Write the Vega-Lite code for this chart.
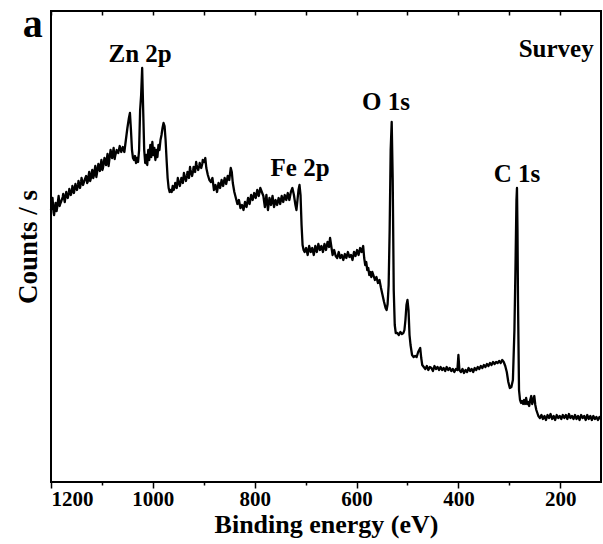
{
"$schema": "https://vega.github.io/schema/vega-lite/v6.json",
"width": 550, "height": 471,
"autosize": {"type": "none"},
"padding": {"left": 51, "top": 11, "right": 2, "bottom": 62},
"background": "white",
"config": {"view": {"stroke": "black", "strokeWidth": 2}, "font": "Liberation Serif"},
"datasets": {
"spectrum": [
{"e":1200,"c":272},{"e":1198,"c":281},{"e":1197,"c":284},{"e":1195,"c":270},{"e":1194,"c":267},{"e":1191,"c":279},{"e":1189,"c":271},{"e":1188,"c":274},{"e":1185,"c":286},{"e":1183,"c":276},{"e":1182,"c":278},{"e":1179,"c":282},{"e":1177,"c":285},{"e":1176,"c":288},{"e":1173,"c":280},{"e":1171,"c":287},{"e":1170,"c":290},{"e":1167,"c":284},{"e":1165,"c":289},{"e":1164,"c":293},{"e":1161,"c":287},{"e":1159,"c":291},{"e":1158,"c":296},{"e":1155,"c":289},{"e":1153,"c":295},{"e":1152,"c":298},{"e":1149,"c":292},{"e":1147,"c":297},{"e":1146,"c":301},{"e":1143,"c":294},{"e":1141,"c":300},{"e":1140,"c":304},{"e":1137,"c":297},{"e":1134,"c":302},{"e":1131,"c":306},{"e":1129,"c":299},{"e":1128,"c":300},{"e":1125,"c":310},{"e":1123,"c":301},{"e":1122,"c":303},{"e":1119,"c":312},{"e":1117,"c":304},{"e":1116,"c":306},{"e":1113,"c":316},{"e":1111,"c":305},{"e":1110,"c":308},{"e":1107,"c":318},{"e":1105,"c":313},{"e":1104,"c":311},{"e":1101,"c":322},{"e":1099,"c":312},{"e":1098,"c":314},{"e":1095,"c":324},{"e":1093,"c":320},{"e":1092,"c":317},{"e":1089,"c":328},{"e":1087,"c":316},{"e":1086,"c":320},{"e":1083,"c":332},{"e":1081,"c":327},{"e":1080,"c":324},{"e":1077,"c":334},{"e":1075,"c":323},{"e":1074,"c":326},{"e":1071,"c":332},{"e":1068,"c":329},{"e":1065,"c":336},{"e":1062,"c":330},{"e":1059,"c":335},{"e":1056,"c":330},{"e":1053,"c":342},{"e":1050,"c":354},{"e":1047,"c":364},{"e":1045,"c":369},{"e":1043,"c":352},{"e":1041,"c":332},{"e":1039,"c":324},{"e":1037,"c":322},{"e":1035,"c":326},{"e":1033,"c":319},{"e":1031,"c":324},{"e":1029,"c":320},{"e":1027,"c":332},{"e":1025,"c":372},{"e":1023,"c":387},{"e":1021,"c":414},{"e":1019,"c":372},{"e":1017,"c":332},{"e":1015,"c":319},{"e":1013,"c":327},{"e":1011,"c":317},{"e":1009,"c":332},{"e":1007,"c":322},{"e":1005,"c":337},{"e":1003,"c":325},{"e":1001,"c":340},{"e":999,"c":327},{"e":997,"c":334},{"e":995,"c":322},{"e":993,"c":332},{"e":991,"c":325},{"e":989,"c":337},{"e":987,"c":332},{"e":985,"c":342},{"e":983,"c":347},{"e":981,"c":354},{"e":979,"c":359},{"e":977,"c":356},{"e":975,"c":342},{"e":973,"c":322},{"e":971,"c":304},{"e":969,"c":294},{"e":967,"c":290},{"e":965,"c":292},{"e":963,"c":290},{"e":961,"c":296},{"e":959,"c":292},{"e":957,"c":295},{"e":956,"c":299},{"e":953,"c":294},{"e":951,"c":304},{"e":950,"c":302},{"e":947,"c":296},{"e":945,"c":301},{"e":944,"c":304},{"e":941,"c":299},{"e":939,"c":309},{"e":938,"c":307},{"e":935,"c":301},{"e":933,"c":306},{"e":932,"c":310},{"e":929,"c":304},{"e":927,"c":315},{"e":926,"c":312},{"e":923,"c":306},{"e":921,"c":311},{"e":920,"c":315},{"e":917,"c":310},{"e":915,"c":320},{"e":914,"c":317},{"e":911,"c":312},{"e":909,"c":316},{"e":908,"c":319},{"e":905,"c":314},{"e":903,"c":318},{"e":902,"c":322},{"e":899,"c":320},{"e":897,"c":324},{"e":895,"c":314},{"e":892,"c":307},{"e":889,"c":302},{"e":886,"c":300},{"e":883,"c":304},{"e":880,"c":292},{"e":877,"c":297},{"e":874,"c":290},{"e":871,"c":299},{"e":868,"c":294},{"e":865,"c":302},{"e":862,"c":296},{"e":859,"c":304},{"e":856,"c":298},{"e":853,"c":306},{"e":850,"c":302},{"e":847,"c":314},{"e":845,"c":310},{"e":843,"c":299},{"e":840,"c":290},{"e":837,"c":284},{"e":834,"c":278},{"e":831,"c":282},{"e":828,"c":274},{"e":825,"c":277},{"e":822,"c":272},{"e":819,"c":280},{"e":816,"c":275},{"e":813,"c":284},{"e":810,"c":278},{"e":807,"c":287},{"e":804,"c":282},{"e":801,"c":289},{"e":798,"c":284},{"e":795,"c":292},{"e":792,"c":286},{"e":789,"c":294},{"e":786,"c":290},{"e":783,"c":286},{"e":780,"c":275},{"e":777,"c":287},{"e":774,"c":272},{"e":771,"c":284},{"e":768,"c":277},{"e":765,"c":286},{"e":762,"c":275},{"e":759,"c":282},{"e":756,"c":277},{"e":753,"c":284},{"e":750,"c":278},{"e":747,"c":286},{"e":744,"c":280},{"e":741,"c":287},{"e":738,"c":282},{"e":735,"c":289},{"e":732,"c":282},{"e":729,"c":290},{"e":726,"c":294},{"e":723,"c":287},{"e":720,"c":277},{"e":718,"c":272},{"e":716,"c":282},{"e":714,"c":292},{"e":712,"c":297},{"e":710,"c":287},{"e":708,"c":257},{"e":706,"c":237},{"e":704,"c":232},{"e":702,"c":230},{"e":699,"c":234},{"e":696,"c":227},{"e":693,"c":236},{"e":690,"c":230},{"e":687,"c":234},{"e":684,"c":227},{"e":681,"c":236},{"e":678,"c":230},{"e":675,"c":238},{"e":672,"c":232},{"e":669,"c":236},{"e":666,"c":230},{"e":663,"c":238},{"e":660,"c":232},{"e":657,"c":240},{"e":654,"c":235},{"e":652,"c":244},{"e":650,"c":237},{"e":647,"c":227},{"e":644,"c":232},{"e":641,"c":226},{"e":638,"c":224},{"e":635,"c":230},{"e":632,"c":224},{"e":629,"c":227},{"e":626,"c":222},{"e":623,"c":228},{"e":620,"c":224},{"e":617,"c":230},{"e":614,"c":225},{"e":611,"c":227},{"e":608,"c":222},{"e":605,"c":230},{"e":602,"c":226},{"e":599,"c":232},{"e":596,"c":227},{"e":593,"c":234},{"e":590,"c":230},{"e":587,"c":236},{"e":585,"c":224},{"e":583,"c":217},{"e":581,"c":220},{"e":579,"c":212},{"e":577,"c":214},{"e":575,"c":207},{"e":573,"c":210},{"e":571,"c":205},{"e":569,"c":210},{"e":567,"c":207},{"e":564,"c":202},{"e":561,"c":205},{"e":558,"c":199},{"e":555,"c":202},{"e":552,"c":194},{"e":549,"c":187},{"e":546,"c":180},{"e":543,"c":174},{"e":541,"c":172},{"e":539,"c":178},{"e":537,"c":197},{"e":535,"c":252},{"e":533,"c":332},{"e":531,"c":360},{"e":529,"c":302},{"e":527,"c":192},{"e":525,"c":157},{"e":523,"c":149},{"e":520,"c":149},{"e":517,"c":147},{"e":514,"c":150},{"e":511,"c":148},{"e":508,"c":149},{"e":506,"c":152},{"e":504,"c":162},{"e":502,"c":177},{"e":500,"c":182},{"e":498,"c":172},{"e":496,"c":147},{"e":494,"c":137},{"e":491,"c":127},{"e":488,"c":125},{"e":485,"c":126},{"e":482,"c":125},{"e":479,"c":130},{"e":477,"c":132},{"e":475,"c":134},{"e":473,"c":124},{"e":471,"c":117},{"e":468,"c":115},{"e":465,"c":113},{"e":462,"c":116},{"e":459,"c":112},{"e":456,"c":115},{"e":453,"c":114},{"e":450,"c":111},{"e":447,"c":116},{"e":444,"c":113},{"e":441,"c":115},{"e":438,"c":112},{"e":435,"c":115},{"e":432,"c":112},{"e":429,"c":114},{"e":426,"c":111},{"e":423,"c":115},{"e":420,"c":112},{"e":417,"c":114},{"e":414,"c":111},{"e":411,"c":113},{"e":408,"c":110},{"e":405,"c":113},{"e":402,"c":112},{"e":400,"c":127},{"e":398,"c":112},{"e":395,"c":110},{"e":392,"c":113},{"e":389,"c":109},{"e":386,"c":112},{"e":383,"c":110},{"e":380,"c":114},{"e":377,"c":111},{"e":374,"c":113},{"e":371,"c":110},{"e":368,"c":114},{"e":365,"c":112},{"e":362,"c":115},{"e":359,"c":113},{"e":356,"c":116},{"e":353,"c":114},{"e":350,"c":117},{"e":347,"c":115},{"e":344,"c":118},{"e":341,"c":116},{"e":338,"c":119},{"e":335,"c":117},{"e":332,"c":120},{"e":329,"c":118},{"e":326,"c":120},{"e":323,"c":119},{"e":320,"c":121},{"e":317,"c":119},{"e":314,"c":122},{"e":311,"c":120},{"e":308,"c":116},{"e":305,"c":110},{"e":302,"c":100},{"e":299,"c":94},{"e":296,"c":95},{"e":293,"c":102},{"e":290,"c":152},{"e":288,"c":212},{"e":286,"c":282},{"e":285,"c":294},{"e":284,"c":252},{"e":283,"c":182},{"e":281,"c":92},{"e":279,"c":82},{"e":277,"c":79},{"e":275,"c":81},{"e":273,"c":78},{"e":271,"c":82},{"e":269,"c":78},{"e":267,"c":84},{"e":265,"c":78},{"e":263,"c":80},{"e":261,"c":76},{"e":259,"c":82},{"e":257,"c":86},{"e":255,"c":78},{"e":253,"c":82},{"e":251,"c":86},{"e":249,"c":77},{"e":247,"c":72},{"e":245,"c":69},{"e":243,"c":66},{"e":240,"c":64},{"e":237,"c":67},{"e":234,"c":63},{"e":231,"c":66},{"e":228,"c":62},{"e":225,"c":67},{"e":222,"c":64},{"e":219,"c":68},{"e":216,"c":63},{"e":213,"c":66},{"e":210,"c":62},{"e":207,"c":67},{"e":204,"c":64},{"e":201,"c":66},{"e":198,"c":63},{"e":195,"c":67},{"e":192,"c":64},{"e":189,"c":67},{"e":186,"c":63},{"e":183,"c":68},{"e":180,"c":64},{"e":177,"c":66},{"e":174,"c":63},{"e":171,"c":67},{"e":168,"c":63},{"e":165,"c":66},{"e":162,"c":62},{"e":159,"c":67},{"e":156,"c":64},{"e":153,"c":66},{"e":150,"c":62},{"e":147,"c":67},{"e":144,"c":63},{"e":141,"c":66},{"e":138,"c":62},{"e":135,"c":66},{"e":132,"c":63},{"e":129,"c":65},{"e":126,"c":62},{"e":123,"c":65},{"e":120,"c":63}
],
"labels": [
{"e":1025,"c":420,"t":"Zn 2p"},
{"e":542,"c":372,"t":"O 1s"},
{"e":711,"c":306,"t":"Fe 2p"},
{"e":285,"c":300,"t":"C 1s"},
{"e":208,"c":425,"t":"Survey"}
],
"panel": [
{"e":1236,"c":445,"t":"a"}
]
},
"resolve": {"axis": {"x": "independent", "y": "independent"}},
"layer": [
{
"data": {"name": "spectrum"},
"mark": {"type": "line", "color": "black", "strokeWidth": 2.3, "strokeJoin": "round"},
"encoding": {
"x": {"field": "e", "type": "quantitative",
"scale": {"domain": [120, 1200], "reverse": true, "nice": false, "zero": false},
"axis": {"orient": "bottom", "values": [1200,1100,1000,900,800,700,600,500,400,300,200],
"labelExpr": "datum.value % 200 == 0 ? datum.label : ''", "format": "d",
"title": "Binding energy (eV)", "grid": false, "domain": false,
"tickColor": "black", "tickWidth": 1.5,
"tickSize": {"condition": {"test": "datum.value % 200 == 0", "value": 6}, "value": 3},
"labelFont": "Liberation Serif", "labelFontWeight": "bold", "labelFontSize": 21, "labelColor": "black", "labelPadding": 0,
"titleFont": "Liberation Serif", "titleFontWeight": "bold", "titleFontSize": 26, "titleColor": "black", "titlePadding": 2}},
"y": {"field": "c", "type": "quantitative",
"scale": {"domain": [0, 471], "nice": false, "zero": false},
"axis": {"orient": "left", "title": "Counts / s", "labels": false, "ticks": false, "domain": false, "grid": false,
"titleFont": "Liberation Serif", "titleFontWeight": "bold", "titleFontSize": 27, "titleColor": "black", "titlePadding": 9}}
}
},
{
"data": {"name": "labels"},
"mark": {"type": "text", "font": "Liberation Serif", "fontWeight": "bold", "fontSize": 25, "color": "black", "align": "center", "baseline": "alphabetic"},
"encoding": {
"x": {"field": "e", "type": "quantitative",
"axis": {"orient": "top", "values": [1200,1100,1000,900,800,700,600,500,400,300,200], "labels": false, "title": null, "grid": false, "domain": false, "tickColor": "black", "tickWidth": 1.5, "tickSize": -4}},
"y": {"field": "c", "type": "quantitative", "axis": null},
"text": {"field": "t"}
}
},
{
"data": {"name": "panel"},
"mark": {"type": "text", "font": "Liberation Serif", "fontWeight": "bold", "fontSize": 40, "color": "black", "align": "center", "baseline": "alphabetic"},
"encoding": {
"x": {"field": "e", "type": "quantitative", "axis": null},
"y": {"field": "c", "type": "quantitative", "axis": null},
"text": {"field": "t"}
}
}
]
}
